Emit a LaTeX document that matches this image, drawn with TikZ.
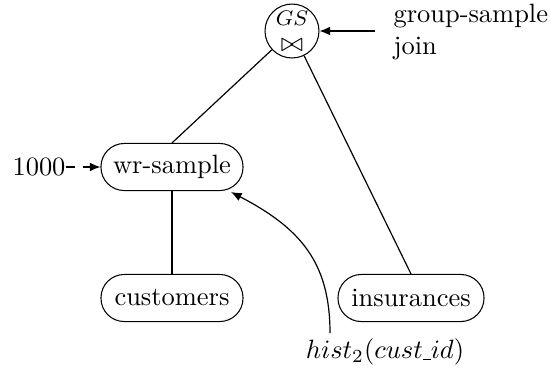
\documentclass[tikz,border=0pt]{standalone}
\usetikzlibrary{arrows.meta}
\begin{document}
\begin{tikzpicture}[x=0.378pt,y=-0.378pt,
  relbox/.style={draw,rectangle,rounded corners=8.8pt,minimum height=17.8pt,inner xsep=2pt},
  joinop/.style={draw,circle,minimum size=20.4pt,inner sep=0pt,align=center},
  edge/.style={line width=0.45pt},
  tip/.style={-{Latex[length=4pt,width=3.3pt]}}]
\useasboundingbox (0,0) rectangle (550,371);

% operators and relations
\node[joinop] (gs) at (292,31) {\footnotesize$GS$\\[-2pt]$\bowtie$};
\node[relbox,minimum width=53.7pt] (w) at (172,167) {wr-sample};
\node[relbox,minimum width=53.7pt] (c) at (172,298) {customers};
\node[relbox,minimum width=55.2pt] (ins) at (411,298) {insurances};

% labels
\node[anchor=west,align=left,inner sep=0pt] (lbl) at (393,32) {group-sample\\join};
\node[anchor=east,inner sep=0pt] (n) at (66,167) {1000};
\node[inner sep=0pt] (h) at (385,352) {$hist_2(cust\rule[-0.6pt]{3pt}{0.45pt}id)$};
\coordinate (la) at (375,31);
\coordinate (hs) at (330,333);

% tree edges
\draw[edge] (c) -- (w);
\draw[edge] (w.north) -- (gs);
\draw[edge] (gs) -- (ins.north);

% annotations
\draw[edge,tip] (la) -- (gs.east);
\draw[edge,tip,dash pattern=on 3.4pt off 3pt] (n.east) -- (w.west);
\draw[edge,tip] (hs) .. controls (330,262) and (300,228) .. (231,192);
\end{tikzpicture}
\end{document}
